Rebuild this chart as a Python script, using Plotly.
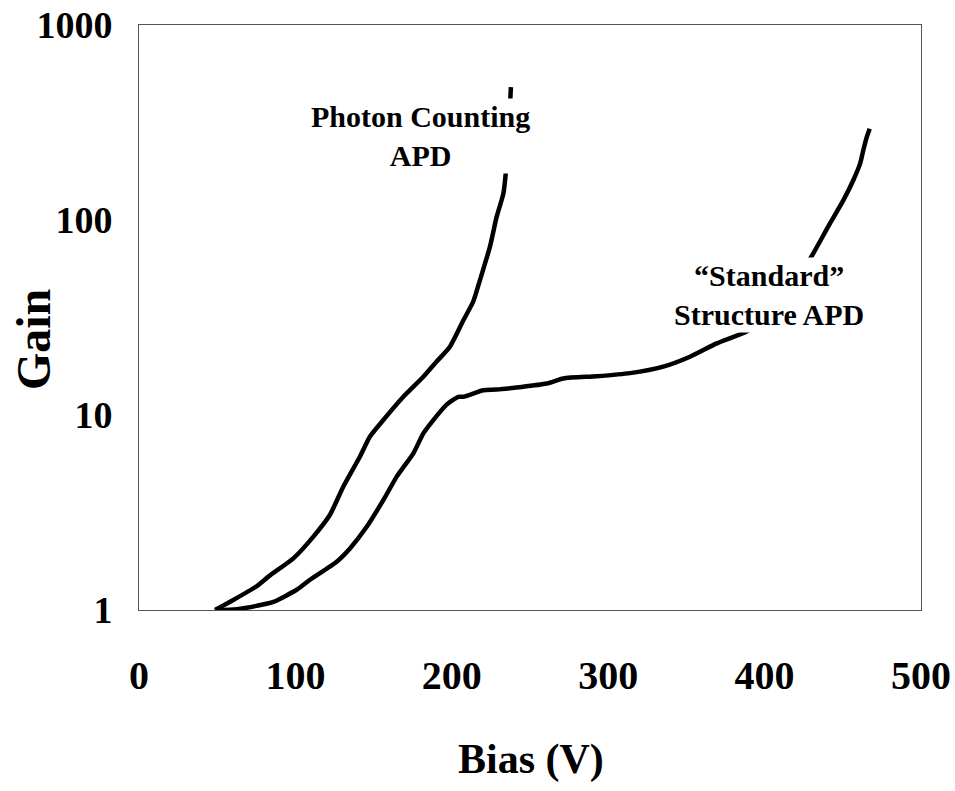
import plotly.graph_objects as go

# Photon Counting APD curve (Bias V, Gain)
pc_bias = [48.6, 58, 75, 84, 98.7, 111.5, 122, 130.6, 141.3, 147.7, 156.2, 169, 181.8, 190.3,
           198.8, 207.4, 213.7, 218, 224.4, 228.7, 233, 234.7, 236.5, 237.8]
pc_gain = [1.0, 1.10, 1.32, 1.51, 1.84, 2.38, 3.07, 4.29, 6.13, 7.76, 9.42, 12.4, 15.7, 18.8,
           22.4, 30.6, 38.2, 49.2, 73, 104, 137, 181, 300, 480]

# "Standard" Structure APD curve
st_bias = [48.6, 62.5, 75.2, 85.9, 100.8, 109.3, 126.4, 134.9, 145.6, 156.2, 164.8, 175.4, 181.8,
           188.2, 196.7, 204.2, 207.4, 220.2, 228.7, 260.6, 271.3, 292.6, 314, 335.2, 352.3,
           369.4, 388.5, 405, 418, 430, 441.8, 450.3, 456.7, 461, 463.1, 465.3, 467.2]
st_gain = [1.0, 1.01, 1.05, 1.10, 1.27, 1.43, 1.77, 2.07, 2.67, 3.66, 4.83, 6.36, 8.05,
           9.42, 11.3, 12.4, 12.4, 13.4, 13.5, 14.5, 15.4, 15.8, 16.4, 17.7, 19.9,
           23.3, 26.8, 33, 45, 65, 96, 126, 160, 194, 228, 266, 294]

x_ticks = [0, 100, 200, 300, 400, 500]
y_ticks = [1, 10, 100, 1000]
y_tick_labels = ["1", "10", "100", "1000"]

FONT = "Liberation Serif, Times New Roman, serif"

fig = go.Figure()
fig.add_trace(go.Scatter(x=pc_bias, y=pc_gain, mode="lines",
                         line=dict(color="black", width=4.5, shape="spline", smoothing=0.6),
                         showlegend=False))
fig.add_trace(go.Scatter(x=st_bias, y=st_gain, mode="lines",
                         line=dict(color="black", width=4.5, shape="spline", smoothing=0.6),
                         showlegend=False))

fig.update_layout(
    width=955, height=791,
    margin=dict(l=139, r=34, t=25, b=181),
    paper_bgcolor="white", plot_bgcolor="white",
    font=dict(family=FONT, color="black"),
    xaxis=dict(range=[0, 500], tickvals=x_ticks, showgrid=False, zeroline=False,
               showline=True, linecolor="#555", linewidth=1, mirror=True,
               tickfont=dict(family=FONT, size=40, weight=700), ticks="",
               ticklabelstandoff=30, automargin=False, ticklabeloverflow="allow"),
    yaxis=dict(type="log", range=[0, 3], tickvals=y_ticks, ticktext=y_tick_labels,
               showgrid=False, zeroline=False,
               showline=True, linecolor="#555", linewidth=1, mirror=True,
               tickfont=dict(family=FONT, size=38, weight=700), ticks="",
               ticklabelstandoff=18, automargin=False, ticklabeloverflow="allow"),
    annotations=[
        dict(x=180.3, y=2.431, xref="x", yref="y", text="Photon Counting<br>APD",
             showarrow=False, font=dict(family=FONT, size=30, weight=700),
             bgcolor="white", borderpad=1),
        dict(x=402.8, y=1.615, xref="x", yref="y", text="\u201cStandard\u201d<br>Structure APD",
             showarrow=False, font=dict(family=FONT, size=30, weight=700),
             bgcolor="white", borderpad=1),
        dict(x=-0.1355, y=0.4615, xref="paper", yref="paper", text="Gain", textangle=-90,
             xanchor="center", yanchor="middle",
             showarrow=False, font=dict(family=FONT, size=48, weight=700)),
        dict(x=0.501, y=-0.256, xref="paper", yref="paper", text="Bias (V)",
             xanchor="center", yanchor="middle",
             showarrow=False, font=dict(family=FONT, size=42, weight=700)),
    ],
)

fig.write_html("out.html", config={"displayModeBar": False},
               post_script="document.body.style.margin='0';document.body.style.overflow='hidden';")
